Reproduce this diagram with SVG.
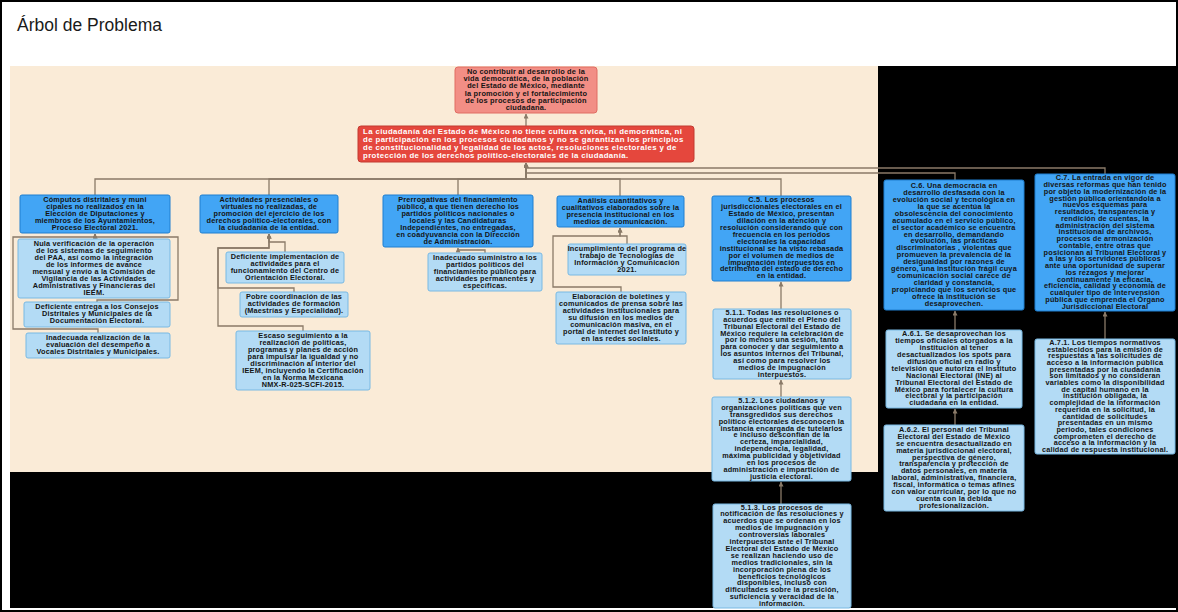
<svg xmlns="http://www.w3.org/2000/svg" width="1178" height="612" viewBox="0 0 1178 612">
<defs>
<marker id="arr" viewBox="0 0 6 6" refX="5.5" refY="3" markerWidth="5" markerHeight="5" markerUnits="userSpaceOnUse" orient="auto">
<path d="M0,0 L6,3 L0,6 z" fill="#8a7a68"/>
</marker>
<style>
.t{font-family:"Liberation Sans",Arial,sans-serif;font-weight:bold;font-size:7.3px;letter-spacing:0.2px;fill:#141414;text-anchor:middle}
.main rect{fill:#42a5f5;stroke:#1e7fd0;stroke-width:1}
.sub rect{fill:#b3dbf5;stroke:#79b9e3;stroke-width:1}
.conn path{fill:none;stroke:#8a7a68;stroke-width:1.3;marker-end:url(#arr)}
</style>
</defs>
<rect x="0" y="0" width="1178" height="612" fill="#ffffff"/>
<rect x="10" y="66" width="1166" height="542" fill="#000000"/>
<rect x="10" y="66" width="868" height="406" fill="#faebd7"/>
<rect x="1" y="1" width="1176" height="610" fill="none" stroke="#000" stroke-width="2"/>
<text x="17" y="31" font-family="Liberation Sans,Arial,sans-serif" font-size="17.5" fill="#1a1a1a">Árbol de Problema</text>

<g class="conn">
<path d="M526,126 V114"/>
<path d="M1105,174 V168 H526 V163"/>
<path d="M955,180 V173 H526 V163"/>
<path d="M95,195 V179 H526 V163"/>
<path d="M269,195 V179 H526 V163"/>
<path d="M458,195 V179 H526 V163"/>
<path d="M620,196 V179 H526 V163"/>
<path d="M781,196 V179 H526 V163"/>
<path d="M95,239 V234"/>
<path d="M97,302 V300 H178 V237 H95 V234"/>
<path d="M98,333 V329 H13 V237 H95 V234"/>
<path d="M285,252 V242 H269 V234"/>
<path d="M294,292 V288 H218 V248 H269 V234"/>
<path d="M303,331 V326 H218 V248 H269 V234"/>
<path d="M485,253 V250 H458 V248"/>
<path d="M627,244 V236 H620 V228"/>
<path d="M621,292 V287 H553 V236 H620 V228"/>
<path d="M781,309 V282"/>
<path d="M781,397 V380"/>
<path d="M781,504 V482"/>
<path d="M955,330 V311"/>
<path d="M955,425 V409"/>
<path d="M1105,339 V312"/>
</g>

<g id="n-top">
<rect x="455" y="67" width="142" height="46" rx="3" fill="#f28e85" stroke="#e06c63"/>
<text class="t" style="font-size:7.4px" x="526" y="74"><tspan x="526">No contribuir al desarrollo de la</tspan><tspan x="526" dy="7.2">vida democrática, de la población</tspan><tspan x="526" dy="7.2">del Estado de México, mediante</tspan><tspan x="526" dy="7.2">la promoción y el fortalecimiento</tspan><tspan x="526" dy="7.2">de los procesos de participación</tspan><tspan x="526" dy="7.2">ciudadana.</tspan></text>
</g>

<g id="n-problem">
<rect x="358" y="126" width="336" height="36" rx="3" fill="#e5473d" stroke="#c23a30"/>
<text class="t" style="font-size:7.8px;letter-spacing:0.4px;fill:#fff;text-anchor:start" x="363" y="133.6"><tspan x="363">La ciudadanía del Estado de México no tiene cultura cívica, ni democrática, ni</tspan><tspan x="363" dy="8.2">de participación en los procesos ciudadanos y no se garantizan los principios</tspan><tspan x="363" dy="8.2">de constitucionalidad y legalidad de los actos, resoluciones electorales y de</tspan><tspan x="363" dy="8.2">protección de los derechos político-electorales de la ciudadanía.</tspan></text>
</g>

<g id="n-c1" class="main">
<rect x="20" y="195" width="150" height="38" rx="2"/>
<text class="t" x="95" y="202"><tspan x="95">Cómputos distritales y muni</tspan><tspan x="95" dy="6.9">cipales no realizados en la</tspan><tspan x="95" dy="6.9">Elección de Diputaciones y</tspan><tspan x="95" dy="6.9">miembros de los Ayuntamientos,</tspan><tspan x="95" dy="6.9">Proceso Electoral 2021.</tspan></text>
</g>
<g id="n-c1a" class="sub">
<rect x="18" y="239" width="152" height="59" rx="2"/>
<text class="t" x="94" y="246.2"><tspan x="94">Nula verificación de la operación</tspan><tspan x="94" dy="6.9">de los sistemas de seguimiento</tspan><tspan x="94" dy="6.9">del PAA, así como la integración</tspan><tspan x="94" dy="6.9">de los informes de avance</tspan><tspan x="94" dy="6.9">mensual y envío a la Comisión de</tspan><tspan x="94" dy="6.9">Vigilancia de las Actividades</tspan><tspan x="94" dy="6.9">Administrativas y Financieras del</tspan><tspan x="94" dy="6.9">IEEM.</tspan></text>
</g>
<g id="n-c1b" class="sub">
<rect x="24" y="302" width="146" height="25" rx="2"/>
<text class="t" x="97" y="309.4"><tspan x="97">Deficiente entrega a los Consejos</tspan><tspan x="97" dy="6.9">Distritales y Municipales de la</tspan><tspan x="97" dy="6.9">Documentación Electoral.</tspan></text>
</g>
<g id="n-c1c" class="sub">
<rect x="26" y="333" width="144" height="25" rx="2"/>
<text class="t" x="98" y="340.4"><tspan x="98">Inadecuada realización de la</tspan><tspan x="98" dy="6.9">evaluación del desempeño a</tspan><tspan x="98" dy="6.9">Vocales Distritales y Municipales.</tspan></text>
</g>

<g id="n-c2" class="main">
<rect x="200" y="195" width="138" height="38" rx="2"/>
<text class="t" x="269" y="202"><tspan x="269">Actividades presenciales o</tspan><tspan x="269" dy="6.9">virtuales no realizadas, de</tspan><tspan x="269" dy="6.9">promoción del ejercicio de los</tspan><tspan x="269" dy="6.9">derechos político-electorales, con</tspan><tspan x="269" dy="6.9">la ciudadanía de la entidad.</tspan></text>
</g>
<g id="n-c2a" class="sub">
<rect x="226" y="252" width="118" height="31" rx="2"/>
<text class="t" x="285" y="259"><tspan x="285">Deficiente implementación de</tspan><tspan x="285" dy="6.9">actividades para el</tspan><tspan x="285" dy="6.9">funcionamiento del Centro de</tspan><tspan x="285" dy="6.9">Orientación Electoral.</tspan></text>
</g>
<g id="n-c2b" class="sub">
<rect x="240" y="292" width="108" height="25" rx="2"/>
<text class="t" x="294" y="299.4"><tspan x="294">Pobre coordinación de las</tspan><tspan x="294" dy="6.9">actividades de formación</tspan><tspan x="294" dy="6.9">(Maestrías y Especialidad).</tspan></text>
</g>
<g id="n-c2c" class="sub">
<rect x="236" y="331" width="134" height="59" rx="2"/>
<text class="t" x="303" y="338.2"><tspan x="303">Escaso seguimiento a la</tspan><tspan x="303" dy="6.9">realización de políticas,</tspan><tspan x="303" dy="6.9">programas y planes de acción</tspan><tspan x="303" dy="6.9">para impulsar la igualdad y no</tspan><tspan x="303" dy="6.9">discriminación al interior del</tspan><tspan x="303" dy="6.9">IEEM, incluyendo la Certificación</tspan><tspan x="303" dy="6.9">en la Norma Mexicana</tspan><tspan x="303" dy="6.9">NMX-R-025-SCFI-2015.</tspan></text>
</g>

<g id="n-c3" class="main">
<rect x="383" y="195" width="150" height="52" rx="2"/>
<text class="t" x="458" y="202.1"><tspan x="458">Prerrogativas del financiamiento</tspan><tspan x="458" dy="6.9">público, a que tienen derecho los</tspan><tspan x="458" dy="6.9">partidos políticos nacionales o</tspan><tspan x="458" dy="6.9">locales y las Candidaturas</tspan><tspan x="458" dy="6.9">Independientes, no entregadas,</tspan><tspan x="458" dy="6.9">en coadyuvancia con la Dirección</tspan><tspan x="458" dy="6.9">de Administración.</tspan></text>
</g>
<g id="n-c3a" class="sub">
<rect x="428" y="253" width="114" height="38" rx="2"/>
<text class="t" x="485" y="260"><tspan x="485">Inadecuado suministro a los</tspan><tspan x="485" dy="6.9">partidos políticos del</tspan><tspan x="485" dy="6.9">financiamiento público para</tspan><tspan x="485" dy="6.9">actividades permanentes y</tspan><tspan x="485" dy="6.9">específicas.</tspan></text>
</g>

<g id="n-c4" class="main">
<rect x="557" y="196" width="127" height="31" rx="2"/>
<text class="t" x="620.5" y="203"><tspan x="620.5">Análisis cuantitativos y</tspan><tspan x="620.5" dy="6.9">cualitativos elaborados sobre la</tspan><tspan x="620.5" dy="6.9">presencia institucional en los</tspan><tspan x="620.5" dy="6.9">medios de comunicación.</tspan></text>
</g>
<g id="n-c4a" class="sub">
<rect x="568" y="244" width="118" height="31" rx="2"/>
<text class="t" x="627" y="251"><tspan x="627">Incumplimiento del programa de</tspan><tspan x="627" dy="6.9">trabajo de Tecnologías de</tspan><tspan x="627" dy="6.9">Información y Comunicación</tspan><tspan x="627" dy="6.9">2021.</tspan></text>
</g>
<g id="n-c4b" class="sub">
<rect x="556" y="292" width="130" height="52" rx="2"/>
<text class="t" x="621" y="299.1"><tspan x="621">Elaboración de boletines y</tspan><tspan x="621" dy="6.9">comunicados de prensa sobre las</tspan><tspan x="621" dy="6.9">actividades institucionales para</tspan><tspan x="621" dy="6.9">su difusión en los medios de</tspan><tspan x="621" dy="6.9">comunicación masiva, en el</tspan><tspan x="621" dy="6.9">portal de internet del Instituto y</tspan><tspan x="621" dy="6.9">en las redes sociales.</tspan></text>
</g>

<g id="n-c5" class="main">
<rect x="712" y="196" width="139" height="85" rx="2"/>
<text class="t" x="781.5" y="202.4"><tspan x="781.5">C.5. Los procesos</tspan><tspan x="781.5" dy="6.9">jurisdiccionales electorales en el</tspan><tspan x="781.5" dy="6.9">Estado de México, presentan</tspan><tspan x="781.5" dy="6.9">dilación en la atención y</tspan><tspan x="781.5" dy="6.9">resolución considerando que con</tspan><tspan x="781.5" dy="6.9">frecuencia en los períodos</tspan><tspan x="781.5" dy="6.9">electorales la capacidad</tspan><tspan x="781.5" dy="6.9">institucional se ha visto rebasada</tspan><tspan x="781.5" dy="6.9">por el volumen de medios de</tspan><tspan x="781.5" dy="6.9">impugnación interpuestos en</tspan><tspan x="781.5" dy="6.9">detrimento del estado de derecho</tspan><tspan x="781.5" dy="6.9">en la entidad.</tspan></text>
</g>
<g id="n-511" class="sub">
<rect x="713" y="309" width="138" height="70" rx="2"/>
<text class="t" x="782" y="314.8"><tspan x="782">5.1.1. Todas las resoluciones o</tspan><tspan x="782" dy="6.9">acuerdos que emite el Pleno del</tspan><tspan x="782" dy="6.9">Tribunal Electoral del Estado de</tspan><tspan x="782" dy="6.9">México requiere la celebración de</tspan><tspan x="782" dy="6.9">por lo menos una sesión, tanto</tspan><tspan x="782" dy="6.9">para conocer y dar seguimiento a</tspan><tspan x="782" dy="6.9">los asuntos internos del Tribunal,</tspan><tspan x="782" dy="6.9">así como para resolver los</tspan><tspan x="782" dy="6.9">medios de impugnación</tspan><tspan x="782" dy="6.9">interpuestos.</tspan></text>
</g>
<g id="n-512" class="sub">
<rect x="712" y="397" width="139" height="84" rx="2"/>
<text class="t" x="781.5" y="402.9"><tspan x="781.5">5.1.2. Los ciudadanos y</tspan><tspan x="781.5" dy="6.9">organizaciones políticas que ven</tspan><tspan x="781.5" dy="6.9">transgredidos sus derechos</tspan><tspan x="781.5" dy="6.9">político electorales desconocen la</tspan><tspan x="781.5" dy="6.9">instancia encargada de tutelarlos</tspan><tspan x="781.5" dy="6.9">e incluso desconfían de la</tspan><tspan x="781.5" dy="6.9">certeza, imparcialidad,</tspan><tspan x="781.5" dy="6.9">independencia, legalidad,</tspan><tspan x="781.5" dy="6.9">máxima publicidad y objetividad</tspan><tspan x="781.5" dy="6.9">en los procesos de</tspan><tspan x="781.5" dy="6.9">administración e impartición de</tspan><tspan x="781.5" dy="6.9">justicia electoral.</tspan></text>
</g>
<g id="n-513" class="sub">
<rect x="713" y="504" width="138" height="104" rx="2"/>
<text class="t" x="782" y="509.5"><tspan x="782">5.1.3. Los procesos de</tspan><tspan x="782" dy="6.9">notificación de las resoluciones y</tspan><tspan x="782" dy="6.9">acuerdos que se ordenan en los</tspan><tspan x="782" dy="6.9">medios de impugnación y</tspan><tspan x="782" dy="6.9">controversias laborales</tspan><tspan x="782" dy="6.9">interpuestos ante el Tribunal</tspan><tspan x="782" dy="6.9">Electoral del Estado de México</tspan><tspan x="782" dy="6.9">se realizan haciendo uso de</tspan><tspan x="782" dy="6.9">medios tradicionales, sin la</tspan><tspan x="782" dy="6.9">incorporación plena de los</tspan><tspan x="782" dy="6.9">beneficios tecnológicos</tspan><tspan x="782" dy="6.9">disponibles, incluso con</tspan><tspan x="782" dy="6.9">dificultades sobre la presición,</tspan><tspan x="782" dy="6.9">suficiencia y veracidad de la</tspan><tspan x="782" dy="6.9">información.</tspan></text>
</g>

<g id="n-c6" class="main">
<rect x="884" y="180" width="140" height="130" rx="2"/>
<text class="t" x="954" y="188.2"><tspan x="954">C.6. Una democracia en</tspan><tspan x="954" dy="6.9">desarrollo desfasada con la</tspan><tspan x="954" dy="6.9">evolución social y tecnológica en</tspan><tspan x="954" dy="6.9">la que se acentúa la</tspan><tspan x="954" dy="6.9">obsolescencia del conocimiento</tspan><tspan x="954" dy="6.9">acumulado en el servicio público,</tspan><tspan x="954" dy="6.9">el sector académico se encuentra</tspan><tspan x="954" dy="6.9">en desarrollo, demandando</tspan><tspan x="954" dy="6.9">evolución, las prácticas</tspan><tspan x="954" dy="6.9">discriminatorias , violentas que</tspan><tspan x="954" dy="6.9">promueven la prevalencia de la</tspan><tspan x="954" dy="6.9">desigualdad por razones de</tspan><tspan x="954" dy="6.9">género, una institución frágil cuya</tspan><tspan x="954" dy="6.9">comunicación social carece de</tspan><tspan x="954" dy="6.9">claridad y constancia,</tspan><tspan x="954" dy="6.9">propiciando que los servicios que</tspan><tspan x="954" dy="6.9">ofrece la institución se</tspan><tspan x="954" dy="6.9">desaprovechen.</tspan></text>
</g>
<g id="n-a61" class="sub">
<rect x="886" y="330" width="136" height="78" rx="2"/>
<text class="t" x="954" y="336.3"><tspan x="954">A.6.1. Se desaprovechan los</tspan><tspan x="954" dy="6.9">tiempos oficiales otorgados a la</tspan><tspan x="954" dy="6.9">institución al tener</tspan><tspan x="954" dy="6.9">desactualizados los spots para</tspan><tspan x="954" dy="6.9">difusión oficial en radio y</tspan><tspan x="954" dy="6.9">televisión que autoriza el Instituto</tspan><tspan x="954" dy="6.9">Nacional Electoral (INE) al</tspan><tspan x="954" dy="6.9">Tribunal Electoral del Estado de</tspan><tspan x="954" dy="6.9">México para fortalecer la cultura</tspan><tspan x="954" dy="6.9">electoral y la participación</tspan><tspan x="954" dy="6.9">ciudadana en la entidad.</tspan></text>
</g>
<g id="n-a62" class="sub">
<rect x="884" y="425" width="140" height="86" rx="2"/>
<text class="t" x="954" y="431.9"><tspan x="954">A.6.2. El personal del Tribunal</tspan><tspan x="954" dy="6.9">Electoral del Estado de México</tspan><tspan x="954" dy="6.9">se encuentra desactualizado en</tspan><tspan x="954" dy="6.9">materia jurisdiccional electoral,</tspan><tspan x="954" dy="6.9">perspectiva de género,</tspan><tspan x="954" dy="6.9">transparencia y protección de</tspan><tspan x="954" dy="6.9">datos personales, en materia</tspan><tspan x="954" dy="6.9">laboral, administrativa, financiera,</tspan><tspan x="954" dy="6.9">fiscal, informática o temas afines</tspan><tspan x="954" dy="6.9">con valor curricular, por lo que no</tspan><tspan x="954" dy="6.9">cuenta con la debida</tspan><tspan x="954" dy="6.9">profesionalización.</tspan></text>
</g>

<g id="n-c7" class="main">
<rect x="1035" y="174" width="140" height="137" rx="2"/>
<text class="t" x="1105" y="180.3"><tspan x="1105">C.7. La entrada en vigor de</tspan><tspan x="1105" dy="6.75">diversas reformas que han tenido</tspan><tspan x="1105" dy="6.75">por objeto la modernización de la</tspan><tspan x="1105" dy="6.75">gestión pública orientandola a</tspan><tspan x="1105" dy="6.75">nuevos esquemas para</tspan><tspan x="1105" dy="6.75">resultados, transparencia y</tspan><tspan x="1105" dy="6.75">rendición de cuentas, la</tspan><tspan x="1105" dy="6.75">administración del sistema</tspan><tspan x="1105" dy="6.75">institucional de archivos,</tspan><tspan x="1105" dy="6.75">procesos de armonización</tspan><tspan x="1105" dy="6.75">contable, entre otras que</tspan><tspan x="1105" dy="6.75">posicionan al Tribunal Electoral y</tspan><tspan x="1105" dy="6.75">a las y los servidores públicos</tspan><tspan x="1105" dy="6.75">ante una oportunidad de superar</tspan><tspan x="1105" dy="6.75">los rezagos y mejorar</tspan><tspan x="1105" dy="6.75">continuamente la eficacia,</tspan><tspan x="1105" dy="6.75">eficiencia, calidad y economía de</tspan><tspan x="1105" dy="6.75">cualquier tipo de intervensión</tspan><tspan x="1105" dy="6.75">pública que emprenda el Órgano</tspan><tspan x="1105" dy="6.75">Jurisdiccional Electoral</tspan></text>
</g>
<g id="n-a71" class="sub">
<rect x="1035" y="339" width="140" height="115" rx="2"/>
<text class="t" x="1105" y="344.8"><tspan x="1105">A.7.1. Los tiempos normativos</tspan><tspan x="1105" dy="6.7">establecidos para la emisión de</tspan><tspan x="1105" dy="6.7">respuestas a las solicitudes de</tspan><tspan x="1105" dy="6.7">acceso a la información pública</tspan><tspan x="1105" dy="6.7">presentadas por la ciudadanía</tspan><tspan x="1105" dy="6.7">son  limitados y no consideran</tspan><tspan x="1105" dy="6.7">variables como la disponibilidad</tspan><tspan x="1105" dy="6.7">de capital humano en la</tspan><tspan x="1105" dy="6.7">institución obligada, la</tspan><tspan x="1105" dy="6.7">complejidad de la información</tspan><tspan x="1105" dy="6.7">requerida en la solicitud, la</tspan><tspan x="1105" dy="6.7">cantidad de solicitudes</tspan><tspan x="1105" dy="6.7">presentadas en un mismo</tspan><tspan x="1105" dy="6.7">periodo, tales condiciones</tspan><tspan x="1105" dy="6.7">comprometen el derecho de</tspan><tspan x="1105" dy="6.7">acceso a la información y la</tspan><tspan x="1105" dy="6.7">calidad de respuesta institucional.</tspan></text>
</g>
</svg>
